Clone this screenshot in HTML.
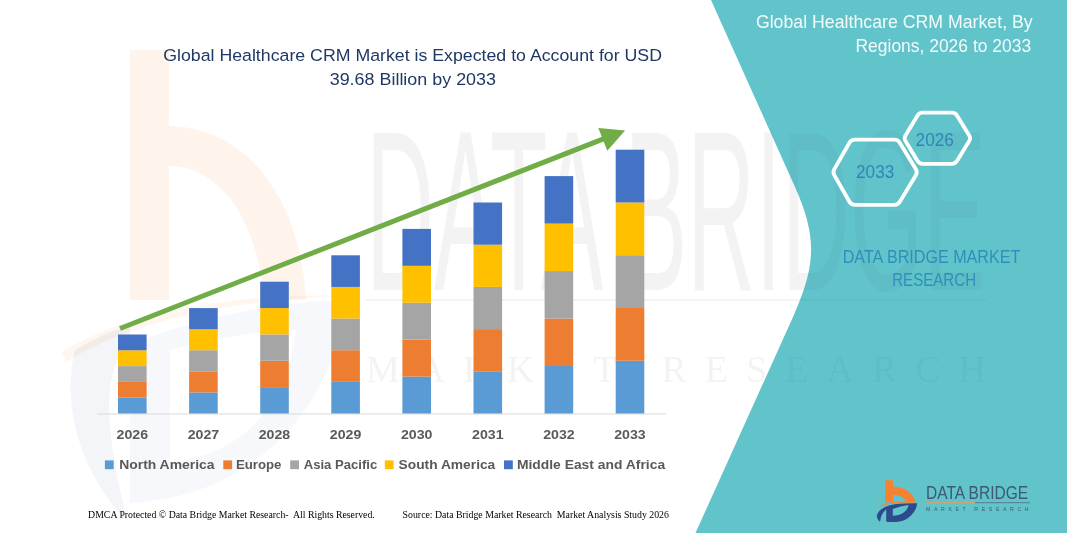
<!DOCTYPE html>
<html lang="en">
<head>
<meta charset="utf-8">
<title>Global Healthcare CRM Market</title>
<style>
html,body{margin:0;padding:0;background:#fff;}
body{width:1067px;height:533px;overflow:hidden;font-family:"Liberation Sans",sans-serif;}
svg{display:block;}
text{font-family:"Liberation Sans",sans-serif;}
.serif{font-family:"Liberation Serif",serif;}
</style>
</head>
<body>
<svg width="1067" height="533" viewBox="0 0 1067 533">
<rect width="1067" height="533" fill="#ffffff"/>

<!-- faint watermark: logo -->
<g>
<path d="M130,50 H169 V126 C240,126 300,190 306,300 L264,300 C258,220 220,166 169,166 V300 H130 Z" fill="#F58220" opacity="0.085"/>
<path d="M62,352 C120,315 230,292 345,296 C230,300 130,322 66,362 Z" fill="#F58220" opacity="0.07"/>
<path d="M75,350 C100,335 120,328 130,326 L130,345 C108,360 98,410 128,522 C85,480 60,410 75,350 Z" fill="#2E4E9E" opacity="0.06"/>
<path d="M130,345 C200,315 280,302 345,300 C335,410 250,498 130,503 Z M170,350 L170,462 C240,455 285,410 296,330 C250,332 205,340 170,350 Z" fill="#2E4E9E" fill-rule="evenodd" opacity="0.04"/>
</g>

<!-- watermark text (on white) -->
<g opacity="0.055" fill="#404040">
<text x="366" y="290" font-size="228" textLength="620" lengthAdjust="spacingAndGlyphs">DATA BRIDGE</text>
<rect x="366" y="299" width="620" height="2"/>
<text x="366" y="382" font-size="38" textLength="620" lengthAdjust="spacing" style="font-family:'Liberation Serif',serif">MARKET RESEARCH</text>
</g>

<!-- teal panel -->
<defs><clipPath id="tealclip"><path d="M711,0 L795,187 C819.7,242 814.5,270 789.4,325 L695.5,533 L1067,533 L1067,0 Z"/></clipPath></defs>
<path d="M711,0 L795,187 C819.7,242 814.5,270 789.4,325 L695.5,533 L1067,533 L1067,0 Z" fill="#62C4CB"/>

<!-- watermark text (on teal, fainter) -->
<g opacity="0.03" fill="#202020" clip-path="url(#tealclip)">
<text x="366" y="290" font-size="228" textLength="620" lengthAdjust="spacingAndGlyphs">DATA BRIDGE</text>
<rect x="366" y="299" width="620" height="2"/>
<text x="366" y="382" font-size="38" textLength="620" lengthAdjust="spacing" style="font-family:'Liberation Serif',serif">MARKET RESEARCH</text>
</g>

<!-- chart title -->
<g fill="#1F3864" font-size="17.4">
<text x="163.2" y="60.6" textLength="498.8" lengthAdjust="spacingAndGlyphs">Global Healthcare CRM Market is Expected to Account for USD</text>
<text x="329.7" y="84.7" textLength="166.3" lengthAdjust="spacingAndGlyphs">39.68 Billion by 2033</text>
</g>

<!-- axis -->
<rect x="97" y="413.5" width="569" height="1" fill="#D9D9D9"/>
<!-- bars -->
<rect x="118.0" y="397.70" width="28.6" height="15.80" fill="#5B9BD5"/>
<rect x="118.0" y="381.90" width="28.6" height="15.80" fill="#ED7D31"/>
<rect x="118.0" y="366.10" width="28.6" height="15.80" fill="#A5A5A5"/>
<rect x="118.0" y="350.30" width="28.6" height="15.80" fill="#FFC000"/>
<rect x="118.0" y="334.50" width="28.6" height="15.80" fill="#4472C4"/>
<rect x="189.1" y="392.42" width="28.6" height="21.08" fill="#5B9BD5"/>
<rect x="189.1" y="371.34" width="28.6" height="21.08" fill="#ED7D31"/>
<rect x="189.1" y="350.26" width="28.6" height="21.08" fill="#A5A5A5"/>
<rect x="189.1" y="329.18" width="28.6" height="21.08" fill="#FFC000"/>
<rect x="189.1" y="308.10" width="28.6" height="21.08" fill="#4472C4"/>
<rect x="260.2" y="387.14" width="28.6" height="26.36" fill="#5B9BD5"/>
<rect x="260.2" y="360.78" width="28.6" height="26.36" fill="#ED7D31"/>
<rect x="260.2" y="334.42" width="28.6" height="26.36" fill="#A5A5A5"/>
<rect x="260.2" y="308.06" width="28.6" height="26.36" fill="#FFC000"/>
<rect x="260.2" y="281.70" width="28.6" height="26.36" fill="#4472C4"/>
<rect x="331.3" y="381.86" width="28.6" height="31.64" fill="#5B9BD5"/>
<rect x="331.3" y="350.22" width="28.6" height="31.64" fill="#ED7D31"/>
<rect x="331.3" y="318.58" width="28.6" height="31.64" fill="#A5A5A5"/>
<rect x="331.3" y="286.94" width="28.6" height="31.64" fill="#FFC000"/>
<rect x="331.3" y="255.30" width="28.6" height="31.64" fill="#4472C4"/>
<rect x="402.4" y="376.58" width="28.6" height="36.92" fill="#5B9BD5"/>
<rect x="402.4" y="339.66" width="28.6" height="36.92" fill="#ED7D31"/>
<rect x="402.4" y="302.74" width="28.6" height="36.92" fill="#A5A5A5"/>
<rect x="402.4" y="265.82" width="28.6" height="36.92" fill="#FFC000"/>
<rect x="402.4" y="228.90" width="28.6" height="36.92" fill="#4472C4"/>
<rect x="473.5" y="371.30" width="28.6" height="42.20" fill="#5B9BD5"/>
<rect x="473.5" y="329.10" width="28.6" height="42.20" fill="#ED7D31"/>
<rect x="473.5" y="286.90" width="28.6" height="42.20" fill="#A5A5A5"/>
<rect x="473.5" y="244.70" width="28.6" height="42.20" fill="#FFC000"/>
<rect x="473.5" y="202.50" width="28.6" height="42.20" fill="#4472C4"/>
<rect x="544.6" y="366.02" width="28.6" height="47.48" fill="#5B9BD5"/>
<rect x="544.6" y="318.54" width="28.6" height="47.48" fill="#ED7D31"/>
<rect x="544.6" y="271.06" width="28.6" height="47.48" fill="#A5A5A5"/>
<rect x="544.6" y="223.58" width="28.6" height="47.48" fill="#FFC000"/>
<rect x="544.6" y="176.10" width="28.6" height="47.48" fill="#4472C4"/>
<rect x="615.7" y="360.74" width="28.6" height="52.76" fill="#5B9BD5"/>
<rect x="615.7" y="307.98" width="28.6" height="52.76" fill="#ED7D31"/>
<rect x="615.7" y="255.22" width="28.6" height="52.76" fill="#A5A5A5"/>
<rect x="615.7" y="202.46" width="28.6" height="52.76" fill="#FFC000"/>
<rect x="615.7" y="149.70" width="28.6" height="52.76" fill="#4472C4"/>

<!-- arrow -->
<line x1="120" y1="328.5" x2="603.5" y2="138.8" stroke="#70AD47" stroke-width="5"/>
<polygon points="625.1,130.5 598.3,128 607.3,150.8" fill="#70AD47"/>

<!-- year labels -->
<g fill="#595959" font-size="13.2" font-weight="bold">
<text x="132.3" y="439" text-anchor="middle" textLength="31.5" lengthAdjust="spacingAndGlyphs">2026</text>
<text x="203.4" y="439" text-anchor="middle" textLength="31.5" lengthAdjust="spacingAndGlyphs">2027</text>
<text x="274.5" y="439" text-anchor="middle" textLength="31.5" lengthAdjust="spacingAndGlyphs">2028</text>
<text x="345.6" y="439" text-anchor="middle" textLength="31.5" lengthAdjust="spacingAndGlyphs">2029</text>
<text x="416.7" y="439" text-anchor="middle" textLength="31.5" lengthAdjust="spacingAndGlyphs">2030</text>
<text x="487.8" y="439" text-anchor="middle" textLength="31.5" lengthAdjust="spacingAndGlyphs">2031</text>
<text x="558.9" y="439" text-anchor="middle" textLength="31.5" lengthAdjust="spacingAndGlyphs">2032</text>
<text x="630.0" y="439" text-anchor="middle" textLength="31.5" lengthAdjust="spacingAndGlyphs">2033</text>
</g>
<!-- legend -->
<g fill="#595959" font-size="13.5" font-weight="bold">
<rect x="104.9" y="460.4" width="8.8" height="8.8" fill="#5B9BD5"/>
<text x="119.2" y="469.3" textLength="95.3" lengthAdjust="spacingAndGlyphs">North America</text>
<rect x="223.3" y="460.4" width="8.8" height="8.8" fill="#ED7D31"/>
<text x="235.9" y="469.3" textLength="45.6" lengthAdjust="spacingAndGlyphs">Europe</text>
<rect x="290.2" y="460.4" width="8.8" height="8.8" fill="#A5A5A5"/>
<text x="303.7" y="469.3" textLength="73.6" lengthAdjust="spacingAndGlyphs">Asia Pacific</text>
<rect x="384.8" y="460.4" width="8.8" height="8.8" fill="#FFC000"/>
<text x="398.6" y="469.3" textLength="96.7" lengthAdjust="spacingAndGlyphs">South America</text>
<rect x="504.0" y="460.4" width="8.8" height="8.8" fill="#4472C4"/>
<text x="516.9" y="469.3" textLength="148.2" lengthAdjust="spacingAndGlyphs">Middle East and Africa</text>
</g>

<!-- footer -->
<g class="serif" fill="#000" font-size="9.6">
<text class="serif" x="88.1" y="518" textLength="286.7" lengthAdjust="spacingAndGlyphs" style="font-family:'Liberation Serif',serif">DMCA Protected © Data Bridge Market Research-&#160; All Rights Reserved.</text>
<text class="serif" x="402.6" y="518" textLength="266.3" lengthAdjust="spacingAndGlyphs" style="font-family:'Liberation Serif',serif">Source: Data Bridge Market Research&#160; Market Analysis Study 2026</text>
</g>

<!-- right panel title -->
<g fill="#F2FBFB" font-size="18.2">
<text x="755.9" y="27.6" textLength="276.8" lengthAdjust="spacingAndGlyphs">Global Healthcare CRM Market, By</text>
<text x="855.5" y="51.5" textLength="175.6" lengthAdjust="spacingAndGlyphs">Regions, 2026 to 2033</text>
</g>

<!-- hexagons -->
<g fill="none" stroke="#ffffff" stroke-width="3.8" stroke-linejoin="round">
<path d="M834.33,175.24 Q832.60,172.20 834.34,169.16 L849.46,142.74 Q851.20,139.70 854.70,139.70 L894.50,139.70 Q898.00,139.70 899.81,142.69 L915.89,169.21 Q917.70,172.20 915.89,175.20 L899.81,201.80 Q898.00,204.80 894.50,204.80 L854.70,204.80 Q851.20,204.80 849.47,201.76 Z"/>
<path d="M905.45,141.04 Q903.80,138.30 905.45,135.56 L917.55,115.44 Q919.20,112.70 922.40,112.70 L952.10,112.70 Q955.30,112.70 956.97,115.43 L969.23,135.57 Q970.90,138.30 969.23,141.03 L956.97,161.07 Q955.30,163.80 952.10,163.80 L922.40,163.80 Q919.20,163.80 917.55,161.06 Z"/>
</g>
<g fill="#2E86B8" font-size="18.5">
<text x="856" y="177.6" textLength="38.3" lengthAdjust="spacingAndGlyphs">2033</text>
<text x="915.6" y="145.7" textLength="38.3" lengthAdjust="spacingAndGlyphs">2026</text>
</g>

<!-- DBMR text -->
<g fill="#2F8FBB" font-size="18">
<text x="842.7" y="262.6" textLength="177.7" lengthAdjust="spacingAndGlyphs">DATA BRIDGE MARKET</text>
<text x="892.2" y="286.3" textLength="83.9" lengthAdjust="spacingAndGlyphs">RESEARCH</text>
</g>

<!-- logo -->
<g>
<path d="M885.2,480.3 H893.1 V486.7 C901,486.3 909,489.8 912.8,496 C914.3,498.5 915,500.3 915.2,502 L905.5,501.5 C904.6,497.6 899.8,494.6 893.1,494.8 V502.3 H885.2 Z" fill="#F58233"/>
<path d="M877,507.2 C882,503.2 893,501.1 915.4,501.5 L915.3,502.7 C897,502.4 884,504 877,507.2 Z" fill="#F58233"/>
<path d="M880.1,521.8 C877.6,519.5 876.6,517.5 876.9,515.5 C878.5,509.6 885,505.6 896,504.1 C903,503.3 910,503.1 917.2,503.2 C916.6,510 911.5,517 903.4,520.6 C898,522.4 892,522.3 886.2,521.7 L886.2,509.4 C882.8,512 880.6,516 880.1,521.8 Z M892.8,508.9 C898,507.1 903,505.7 908.5,505 C908,509.2 903.5,515.5 892.8,515.8 Z" fill="#2D4B8C" fill-rule="evenodd"/>
</g>
<g fill="#3F5873">
<text x="926.1" y="499.3" font-size="17.9" textLength="102" lengthAdjust="spacingAndGlyphs">DATA BRIDGE</text>
<rect x="926" y="502.2" width="49" height="1" fill="#E89B5A"/>
<rect x="975" y="502.2" width="55" height="1" fill="#5B7896"/>
<text x="926.1" y="511.2" font-size="5.2" textLength="102.4" lengthAdjust="spacing">MARKET RESEARCH</text>
</g>
</svg>
</body>
</html>
